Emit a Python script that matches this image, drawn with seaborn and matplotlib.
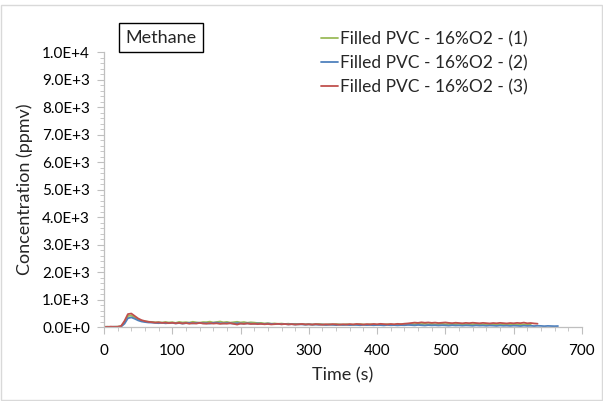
"""
Methane concentration traces for filled PVC at 16% O2 (three repeats).
"""

import matplotlib

matplotlib.use("Agg")

import matplotlib.pyplot as plt
import numpy as np
import pandas as pd
import seaborn as sns
from matplotlib.patches import Rectangle
from matplotlib.ticker import FuncFormatter, MultipleLocator

# sampling interval of the logged traces (s)
STEP = 5

series_names = [
    "Filled PVC - 16%O2 - (1)",
    "Filled PVC - 16%O2 - (2)",
    "Filled PVC - 16%O2 - (3)",
]
series_colors = ["#9BBB59", "#4F81BD", "#C0504D"]

# ppmv, one value every STEP seconds starting at t = 0
run1 = [
    5, 10, 0, 8, 12, 25,
    170, 400, 420, 340, 270, 225, 205, 190, 185, 170, 175, 160, 180, 165,
    175, 150, 185, 165, 175, 160, 190, 170, 155, 180,
    175, 195, 165, 180, 200, 170, 185, 160, 175, 190,
    165, 180, 155, 170, 160, 145, 150, 130, 140, 120,
    130, 115, 125, 110, 120, 105, 115, 100, 110, 95,
    105, 90, 100, 110, 95, 85, 100, 90, 105, 95,
    85, 100, 90, 80, 95, 105, 90, 85, 100, 90,
    80, 95, 85, 100, 90, 80, 95, 105, 90, 100,
    110, 100, 120, 105, 115, 100, 110, 95, 105, 115,
    100, 110, 95, 105, 115, 100, 90, 105, 95, 110,
    100, 90, 105, 95, 85, 100, 90, 105, 95, 85,
    100, 90, 80, 95, 85, 90,
]
run2 = [
    0, 8, 3, 10, 5, 15,
    120, 320, 350, 300, 240, 200, 180, 165, 160, 150, 140, 155, 135, 145,
    150, 130, 145, 125, 140, 150, 130, 145, 155, 135,
    140, 125, 150, 160, 140, 130, 145, 135, 125, 140,
    130, 120, 135, 125, 115, 130, 120, 110, 125, 115,
    105, 115, 100, 110, 95, 105, 90, 100, 95, 85,
    95, 85, 90, 80, 90, 75, 85, 80, 70, 85,
    75, 80, 70, 80, 75, 65, 80, 70, 75, 65,
    75, 70, 60, 75, 65, 70, 60, 70, 65, 75,
    70, 60, 75, 65, 55, 70, 60, 65, 55, 65,
    60, 50, 65, 55, 60, 50, 60, 55, 45, 60,
    50, 55, 45, 55, 50, 40, 55, 45, 50, 40,
    50, 45, 35, 50, 40, 45, 35, 45, 40, 30,
    40, 35, 30, 35,
]
run3 = [
    10, 0, 15, 5, 10, 35,
    220, 470, 490, 400, 310, 250, 215, 190, 175, 160, 170, 150, 160, 140,
    155, 135, 150, 130, 145, 120, 140, 125, 150, 130,
    120, 140, 125, 135, 115, 130, 120, 140, 115, 90,
    125, 115, 130, 110, 120, 105, 115, 100, 110, 95,
    105, 115, 100, 110, 95, 105, 90, 100, 110, 95,
    100, 90, 105, 95, 85, 100, 90, 105, 95, 85,
    100, 90, 105, 95, 110, 100, 90, 105, 95, 110,
    100, 115, 105, 95, 110, 100, 115, 105, 120, 130,
    145, 160, 150, 170, 155, 165, 150, 160, 145, 155,
    165, 150, 140, 155, 145, 135, 150, 140, 155, 145,
    135, 150, 140, 130, 145, 135, 150, 140, 130, 145,
    135, 150, 140, 160, 135, 145, 130, 120,
]

x_ticks = [0, 100, 200, 300, 400, 500, 600, 700]
y_ticks = [0, 1000, 2000, 3000, 4000, 5000, 6000, 7000, 8000, 9000, 10000]


def sci_label(v, pos=None):
    if v == 0:
        return "0.0E+0"
    exp = int(np.floor(np.log10(abs(v))))
    return f"{v / 10 ** exp:.1f}E+{exp}"


frames = []
for name, vals in zip(series_names, [run1, run2, run3]):
    frames.append(pd.DataFrame({
        "time": np.arange(len(vals)) * STEP,
        "conc": vals,
        "run": name,
    }))
df = pd.concat(frames, ignore_index=True)

sns.set_theme(style="white")
plt.rcParams["font.family"] = ["Lato", "DejaVu Sans"]

fig = plt.figure(figsize=(6.03, 4.01), dpi=100)
ax = fig.add_axes([0.1725, 0.1845, 0.7925, 0.6858])

sns.lineplot(
    data=df, x="time", y="conc", hue="run",
    hue_order=series_names, palette=series_colors,
    linewidth=1.3, ax=ax, legend=True,
)

ax.set_xlim(0, 700)
ax.set_ylim(0, 10000)
ax.set_xticks(x_ticks)
ax.set_yticks(y_ticks)
ax.xaxis.set_minor_locator(MultipleLocator(20))
ax.yaxis.set_minor_locator(MultipleLocator(200))
ax.yaxis.set_major_formatter(FuncFormatter(sci_label))
ax.tick_params(axis="both", which="major", length=5, width=0.8,
               color="#BFBFBF", labelsize=11, labelcolor="black", pad=5)
ax.tick_params(axis="x", which="major", pad=7)
ax.tick_params(axis="both", which="minor", length=3, width=0.6,
               color="#BFBFBF")
ax.tick_params(bottom=True, left=True, which="both")

for side in ["top", "right"]:
    ax.spines[side].set_visible(False)
for side in ["bottom", "left"]:
    ax.spines[side].set_color("#BFBFBF")
    ax.spines[side].set_linewidth(0.9)

ax.set_xlabel("Time (s)", fontsize=13, labelpad=7)
ax.set_ylabel("Concentration (ppmv)", fontsize=13, labelpad=7)

leg = ax.legend(
    loc="upper left", bbox_to_anchor=(0.52, 0.94),
    bbox_transform=fig.transFigure, frameon=False,
    handlelength=1.0, handletextpad=0.15, labelspacing=0.45,
    fontsize=12.5, borderaxespad=0,
)

fig.text(0.267, 0.906, "Methane", fontsize=13, ha="center", va="center",
         bbox=dict(boxstyle="square,pad=0.35", facecolor="white",
                   edgecolor="black", linewidth=1.0))

fig.patches.append(Rectangle((0.002, 0.002), 0.996, 0.985,
                             transform=fig.transFigure, fill=False,
                             edgecolor="#D9D9D9", linewidth=1.0))

fig.savefig("out.png", dpi=100)
plt.close(fig)
